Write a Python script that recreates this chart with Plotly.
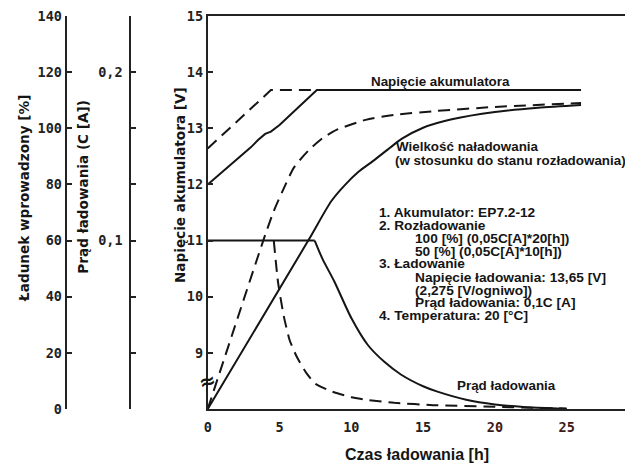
import plotly.graph_objects as go

# ---------------- data ----------------
# battery voltage [V] vs time [h]
hours_v100 = [0, 1, 2, 3, 3.5, 4.0, 4.4, 5.0, 6.0, 7.0, 7.6, 26]
volt_v100 = [12.0, 12.22, 12.44, 12.66, 12.79, 12.90, 12.94, 13.06, 13.30, 13.54, 13.68, 13.68]
hours_v50 = [0, 4.4, 7.6]
volt_v50 = [12.64, 13.68, 13.68]

# charge amount [%] vs time [h]
hours_c100 = [0, 7.0, 8.6, 9.5, 10.5, 11.5, 12.75, 13.5, 15, 17, 20, 23, 26]
charge_c100 = [0, 60, 74, 79.5, 84.5, 88.3, 93.3, 96.2, 100.2, 103.2, 105.8, 107.3, 108.3]
hours_c50 = [0, 4.0, 4.6, 5.2, 6.0, 7.0, 8.0, 9.0, 11.0, 13.0, 16.0, 20.0, 26.0]
charge_c50 = [0, 62, 70.5, 77.5, 86, 92, 96.5, 99.5, 103, 104.8, 106.2, 107.6, 109]

# charging current [C A] vs time [h]
hours_i100_flat = [0, 7.45]
current_i100_flat = [0.1, 0.1]
hours_i100 = [7.45, 8.0, 8.8, 10.0, 11.15, 12.3, 13.45, 15.0, 16.0, 18.0, 20.0, 22.0, 24.0, 25.0]
current_i100 = [0.1, 0.089, 0.076, 0.054, 0.038, 0.028, 0.0205, 0.0135, 0.0103, 0.0055, 0.0027, 0.0012, 0.0004, 0.0]
hours_i50 = [4.6, 4.9, 5.3, 5.7, 6.2, 6.9, 7.5, 8.6, 10, 11.2, 13, 15.7, 20, 25]
current_i50 = [0.1, 0.075, 0.055, 0.041, 0.031, 0.021, 0.015, 0.0105, 0.007, 0.0053, 0.0037, 0.0023, 0.0013, 0.0003]

# ticks
x_ticks = [0, 5, 10, 15, 20, 25]
x_ticktext = ["0", "5", "10", "15",
              "<span style='color:#3e1a1a'>20</span>", "<span style='color:#3e1a1a'>25</span>"]
v_ticks = [9, 10, 11, 12, 13, 14, 15]
v_ticktext = ["9", "10", "11", "12", "13", "14", "15"]
i_ticks = [0, 1 / 30, 2 / 30, 3 / 30, 4 / 30, 5 / 30, 6 / 30, 7 / 30]
i_ticktext = ["", "", "", "0,1", "", "", "0,2", ""]
c_ticks = [0, 20, 40, 60, 80, 100, 120, 140]
c_ticktext = ["0", "20", "40", "60", "80", "100", "120", "140"]

# ---------------- figure ----------------
OFF = 8  # default page body margin
W, H = 633 - OFF, 468 - OFF
L_PLOT, T_PLOT, B_PLOT = 205 - OFF, 14 - OFF, 409 - OFF
INK = "#151515"
AX = "#222222"
DASH = "12px,7px"

fig = go.Figure()
line_solid = dict(color=INK, width=2)
line_dash = dict(color=INK, width=2, dash=DASH)

fig.add_trace(go.Scatter(x=hours_v100, y=volt_v100, mode="lines", line=line_solid, yaxis="y"))
fig.add_trace(go.Scatter(x=hours_v50, y=volt_v50, mode="lines", line=line_dash, yaxis="y"))
fig.add_trace(go.Scatter(x=hours_c100, y=charge_c100, mode="lines",
                         line=dict(color=INK, width=2, shape="spline", smoothing=0.7), yaxis="y3"))
fig.add_trace(go.Scatter(x=hours_c50, y=charge_c50, mode="lines",
                         line=dict(color=INK, width=2, dash=DASH, shape="spline", smoothing=0.6), yaxis="y3"))
fig.add_trace(go.Scatter(x=hours_i100_flat, y=current_i100_flat, mode="lines", line=line_solid, yaxis="y2"))
fig.add_trace(go.Scatter(x=hours_i100, y=current_i100, mode="lines",
                         line=dict(color=INK, width=2, shape="spline", smoothing=0.7), yaxis="y2"))
fig.add_trace(go.Scatter(x=hours_i50, y=current_i50, mode="lines",
                         line=dict(color=INK, width=2, dash=DASH, shape="spline", smoothing=0.5), yaxis="y2"))

tickfont = dict(family="DejaVu Sans Mono", size=13.5, color=AX, weight="bold")
common_y = dict(showgrid=False, zeroline=False, showline=True, linewidth=2, linecolor=AX,
                ticks="inside", ticklen=5, tickwidth=2, tickcolor=AX, tickfont=tickfont,
                tickmode="array", ticklabeloverflow="allow")

fig.update_layout(
    width=W, height=H,
    margin=dict(l=0, r=0, t=T_PLOT, b=H - B_PLOT, pad=0),
    paper_bgcolor="white", plot_bgcolor="white",
    showlegend=False,
    xaxis=dict(domain=[L_PLOT / W, 1], range=[0, (W - L_PLOT) / 14.45],
               showgrid=False, zeroline=False, showline=True, linewidth=2, linecolor=AX,
               mirror=True, ticks="", tickmode="array", tickvals=x_ticks, ticktext=x_ticktext,
               tickfont=tickfont, ticklabelstandoff=5),
    yaxis=dict(range=[8, 15], tickvals=v_ticks, ticktext=v_ticktext, anchor="x", **common_y),
    yaxis2=dict(range=[0, 7 / 30], tickvals=i_ticks, ticktext=i_ticktext,
                overlaying="y", anchor="free", position=(127 - OFF) / W, side="left",
                ticklabelstandoff=4, **common_y),
    yaxis3=dict(range=[0, 140], tickvals=c_ticks, ticktext=c_ticktext,
                overlaying="y", anchor="free", position=(62 - OFF) / W, side="left", **common_y),
)


def px(x, y):
    # reference-page pixel coordinates -> paper coordinates
    x, y = x - OFF, y - OFF
    return x / W, (B_PLOT - y) / (B_PLOT - T_PLOT)


def font(size, family="Liberation Sans"):
    return dict(family=family, size=size, color=INK, weight="bold")


annots = []


def add_text(text, x, y, fnt, xanchor="left", angle=0):
    xp, yp = px(x, y)
    annots.append(dict(text=text, x=xp, y=yp, xref="paper", yref="paper", showarrow=False,
                       xanchor=xanchor, yanchor="middle", textangle=angle, font=fnt,
                       borderpad=0))


# axis titles
title_font = font(13.6, "DejaVu Sans")
add_text("Ładunek wprowadzony [%]", 20, 197, title_font, "center", -90)
add_text("Prąd ładowania (C [A])", 80, 186, title_font, "center", -90)
add_text("Napięcie akumulatora [V]", 177, 184, title_font, "center", -90)
add_text("Czas ładowania [h]", 416, 455, font(16), "center")

# curve labels
label_font = font(13.4)
add_text("Napięcie akumulatora", 439, 80, label_font, "center")
add_text("Wielkość naładowania", 393, 145, label_font)
add_text("(w stosunku do stanu rozładowania)", 392, 159, label_font)
add_text("Prąd ładowania", 506, 385, label_font, "center")

# conditions block
info_font = font(13.7)
info_lines = [
    ("1. Akumulator: EP7.2-12", 376, 212),
    ("2. Rozładowanie", 376, 225),
    ("100 [%] (0,05C[A]*20[h])", 413, 238),
    ("50 [%] (0,05C[A]*10[h])", 413, 250.5),
    ("3. Ładowanie", 376, 263),
    ("Napięcie ładowania: 13,65 [V]", 413, 276.5),
    ("(2,275 [V/ogniwo])", 413, 289.5),
    ("Prąd ładowania: 0,1C [A]", 413, 302),
    ("4. Temperatura: 20 [°C]", 376, 315),
]
for t, x, y in info_lines:
    add_text(t, x, y, info_font)

# axis break mark
add_text("≈", 205, 381, font(20, "DejaVu Sans"), "center", -15)

fig.update_layout(annotations=annots)
fig.write_html("out.html")
